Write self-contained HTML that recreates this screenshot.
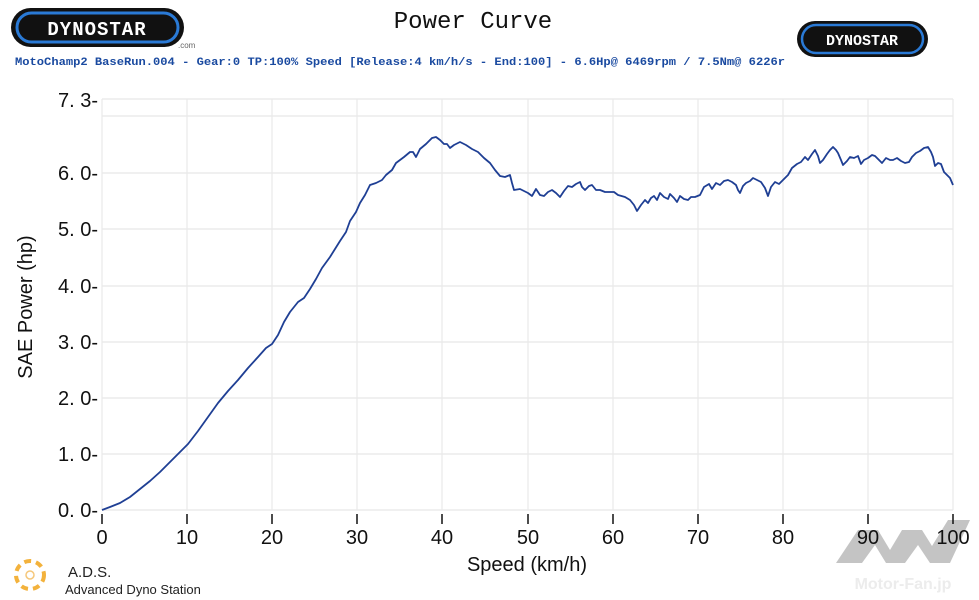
<!DOCTYPE html>
<html><head><meta charset="utf-8"><style>
html,body{margin:0;padding:0;background:#fff;}
svg{display:block;}
</style></head><body>
<svg width="979" height="600" xmlns="http://www.w3.org/2000/svg" font-family="Liberation Sans, sans-serif">
<rect width="979" height="600" fill="#fff"/>
<!-- watermark -->
<polygon points="836,563 858,530 878,530 890,550 902,530 922,530 932,546 948,520 970,520 950,563 930,563 918,545 905,563 886,563 875,545 862,563" fill="#c4c4c4"/>
<text x="903" y="589" font-size="16" font-weight="bold" fill="#ececec" text-anchor="middle">Motor-Fan.jp</text>
<!-- logos -->
<rect x="11" y="8" width="173" height="39" rx="19.5" fill="#111"/>
<rect x="17" y="13" width="161" height="29" rx="14.5" fill="none" stroke="#2a7ad6" stroke-width="3"/>
<text x="97" y="35" font-size="19" font-weight="bold" fill="#fff" text-anchor="middle" font-family="Liberation Mono, monospace" letter-spacing="1">DYNOSTAR</text>
<text x="178" y="48" font-size="8" fill="#666">.com</text>
<rect x="797" y="21" width="131" height="36" rx="18" fill="#111"/>
<rect x="802" y="25" width="121" height="28" rx="14" fill="none" stroke="#2a7ad6" stroke-width="2.5"/>
<text x="862" y="45" font-size="15" font-weight="bold" fill="#fff" text-anchor="middle" font-family="Liberation Mono, monospace">DYNOSTAR</text>
<!-- title -->
<text x="473" y="28" font-size="24" fill="#111" text-anchor="middle" font-family="Liberation Mono, monospace">Power Curve</text>
<text x="15" y="65" font-size="11" font-weight="bold" fill="#1a4aa0" font-family="Liberation Mono, monospace" textLength="770" lengthAdjust="spacingAndGlyphs">MotoChamp2 BaseRun.004 - Gear:0 TP:100% Speed [Release:4 km/h/s - End:100]    - 6.6Hp@ 6469rpm / 7.5Nm@ 6226r</text>
<!-- grid -->
<g stroke="#e8e8e8" stroke-width="1.2">
<line x1="102" y1="99" x2="953" y2="99"/>
<line x1="102" y1="116" x2="953" y2="116"/>
<line x1="102" y1="173" x2="953" y2="173"/>
<line x1="102" y1="229" x2="953" y2="229"/>
<line x1="102" y1="286" x2="953" y2="286"/>
<line x1="102" y1="342" x2="953" y2="342"/>
<line x1="102" y1="398" x2="953" y2="398"/>
<line x1="102" y1="454" x2="953" y2="454"/>
<line x1="102" y1="510" x2="953" y2="510"/>
<line x1="102" y1="99" x2="102" y2="510"/>
<line x1="187" y1="99" x2="187" y2="510"/>
<line x1="272" y1="99" x2="272" y2="510"/>
<line x1="357" y1="99" x2="357" y2="510"/>
<line x1="442" y1="99" x2="442" y2="510"/>
<line x1="528" y1="99" x2="528" y2="510"/>
<line x1="613" y1="99" x2="613" y2="510"/>
<line x1="698" y1="99" x2="698" y2="510"/>
<line x1="783" y1="99" x2="783" y2="510"/>
<line x1="868" y1="99" x2="868" y2="510"/>
<line x1="953" y1="99" x2="953" y2="510"/>
</g>
<!-- ticks -->
<g stroke="#111" stroke-width="1.5">
<line x1="102" y1="514" x2="102" y2="524"/><line x1="187" y1="514" x2="187" y2="524"/><line x1="272" y1="514" x2="272" y2="524"/><line x1="357" y1="514" x2="357" y2="524"/><line x1="442" y1="514" x2="442" y2="524"/><line x1="528" y1="514" x2="528" y2="524"/><line x1="613" y1="514" x2="613" y2="524"/><line x1="698" y1="514" x2="698" y2="524"/><line x1="783" y1="514" x2="783" y2="524"/><line x1="868" y1="514" x2="868" y2="524"/><line x1="953" y1="514" x2="953" y2="524"/>
</g>
<g font-size="20" fill="#111" text-anchor="middle">
<text x="102" y="544">0</text><text x="187" y="544">10</text><text x="272" y="544">20</text><text x="357" y="544">30</text><text x="442" y="544">40</text><text x="528" y="544">50</text><text x="613" y="544">60</text><text x="698" y="544">70</text><text x="783" y="544">80</text><text x="868" y="544">90</text><text x="953" y="544">100</text>
</g>
<g font-size="20" fill="#111" text-anchor="end">
<text x="98" y="107">7. 3-</text>
<text x="98" y="180">6. 0-</text>
<text x="98" y="236">5. 0-</text>
<text x="98" y="293">4. 0-</text>
<text x="98" y="349">3. 0-</text>
<text x="98" y="405">2. 0-</text>
<text x="98" y="461">1. 0-</text>
<text x="98" y="517">0. 0-</text>
</g>
<text x="527" y="571" font-size="20" fill="#111" text-anchor="middle">Speed  (km/h)</text>
<text transform="translate(32,307) rotate(-90)" font-size="20" fill="#111" text-anchor="middle">SAE Power  (hp)</text>
<!-- curve -->
<polyline fill="none" stroke="#1f3f94" stroke-width="1.8" stroke-linejoin="round" points="
102,510 110,507 120,503 130,497 140,489 150,481 160,472 170,462 180,452 188,444 198,431 208,417 218,403 228,391 238,380 248,368 258,357 266,348 272,344 278,335 284,322 290,312 298,302 304,298 310,289 316,279 322,268 330,257 340,241 346,232 350,221 356,212 360,203 365,195 370,185 376,183 382,180 386,175 392,170 396,163 400,160 404,157 410,152 413,152 416,157 420,149 426,144 432,138 436,137 440,140 444,144 447,144 450,148 454,145 460,142 466,145 472,149 478,152 484,158 490,163 495,170 500,176 505,177 510,175 512,183 514,190 520,189 524,191 528,193 532,196 536,189 540,195 544,196 548,192 552,190 556,193 560,197 564,191 568,186 572,187 576,184 580,182 582,187 585,190 589,186 592,185 596,190 600,190 605,192 614,192 618,195 625,197 630,200 634,205 637,211 641,205 645,200 648,203 651,198 654,196 657,200 660,193 664,197 668,199 670,194 674,198 677,202 680,196 684,199 688,200 691,197 695,197 700,195 704,187 709,184 712,189 716,183 720,185 724,181 728,180 732,182 736,185 738,190 740,193 743,186 746,183 750,181 753,178 757,180 761,182 765,188 768,196 771,187 775,182 779,184 783,180 788,175 792,168 797,164 801,162 805,157 808,160 812,154 815,150 818,156 820,163 823,160 827,154 830,150 833,147 836,150 838,153 841,160 843,165 847,161 850,157 854,158 858,156 861,164 864,160 868,158 872,155 875,156 879,160 882,163 886,158 890,160 893,160 897,158 901,161 905,163 909,162 912,157 916,153 920,151 924,148 928,147 931,152 933,157 935,166 938,163 941,164 944,172 947,175 950,178 953,185"/>
<!-- ADS logo -->
<circle cx="30" cy="575" r="14" fill="none" stroke="#f3b23c" stroke-width="4" stroke-dasharray="7 5"/>
<circle cx="30" cy="575" r="4" fill="none" stroke="#f5c77a" stroke-width="1.5"/>
<text x="68" y="577" font-size="15" fill="#222">A.D.S.</text>
<text x="65" y="594" font-size="13" fill="#222">Advanced Dyno Station</text>
</svg>
</body></html>
